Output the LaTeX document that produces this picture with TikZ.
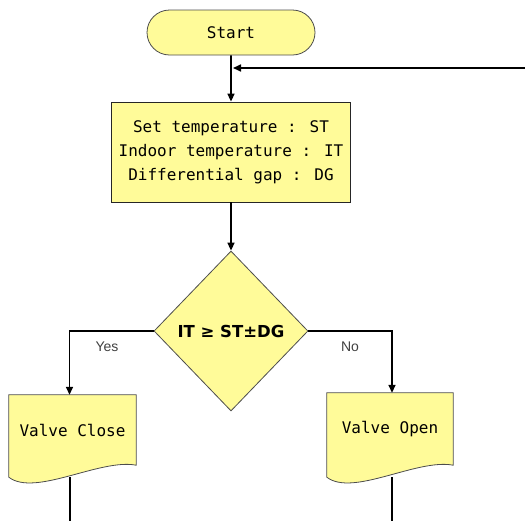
\documentclass[tikz,border=0pt]{standalone}
\usepackage{fontspec}
\setmainfont{Liberation Sans}
\newfontfamily\boxfont{DejaVu Sans Mono}
\newfontfamily\decfont{DejaVu Sans}
\usetikzlibrary{shapes.geometric,shapes.misc,arrows.meta}
\definecolor{boxfill}{HTML}{FFFB99}
\definecolor{edge}{HTML}{4D4D4D}
\begin{document}
\begin{tikzpicture}[x=1pt,y=-1pt,
  base/.style={fill=boxfill, draw=edge, line width=0.8pt, font=\boxfont\fontsize{16}{24}\selectfont, inner sep=0pt},
  txt/.style={inner sep=0pt, font=\boxfont\fontsize{16}{24}\selectfont},
  flow/.style={line width=1.6pt, -{Triangle[length=8pt,width=7pt]}},
  plain/.style={line width=1.6pt},
  lbl/.style={font=\fontsize{14}{16}\selectfont, text=black!75}]
\useasboundingbox (0,0) rectangle (525,520);
\node[base, rounded rectangle, minimum width=168pt, minimum height=45pt] (start) at (231,32.5) {Start};
\node[base, rectangle, draw=black!85, minimum width=239pt, minimum height=100pt, align=center] (set) at (231,152) {Set temperature : ST\\Indoor temperature : IT\\Differential gap : DG};
\node[base, diamond, minimum width=154pt, minimum height=160pt, font=\decfont\bfseries\fontsize{16.5}{18}\selectfont] (dec) at (231,331) {IT ≥ ST±DG};
\node[txt, minimum width=127pt, minimum height=70pt] (close) at (72.5,430) {Valve Close};
\node[txt, minimum width=126pt, minimum height=72pt] (open) at (390,429) {Valve Open};
\path[base] (close.north west) -- (close.north east) -- (close.south east)
  .. controls +(-36,-7) and +(26,20) .. ([yshift=-12pt]close.south west) -- cycle;
\path[base] (open.north west) -- (open.north east) -- (open.south east)
  .. controls +(-36,-7) and +(26,20) .. ([yshift=-12pt]open.south west) -- cycle;
\node[txt] at (close) {Valve Close};
\node[txt] at (open) {Valve Open};
\coordinate (fb) at (527,68);
\coordinate (endc) at (70,522);
\coordinate (endo) at (392,522);
\draw[flow] (start) -- (set);
\draw[flow] (fb) -- ([xshift=2pt]start.south |- fb);
\draw[flow] (set) -- (dec);
\draw[flow] (dec.west) -| ([xshift=-3pt]close.north);
\draw[flow] (dec.east) -| ([xshift=2pt]open.north);
\draw[plain] ([yshift=-12pt]close.south -| endc) -- (endc);
\draw[plain] ([yshift=-12pt]open.south -| endo) -- (endo);
\node[lbl] (yes) at (107,347) {Yes};
\node[lbl] (no) at (350,347) {No};
\end{tikzpicture}
\end{document}
